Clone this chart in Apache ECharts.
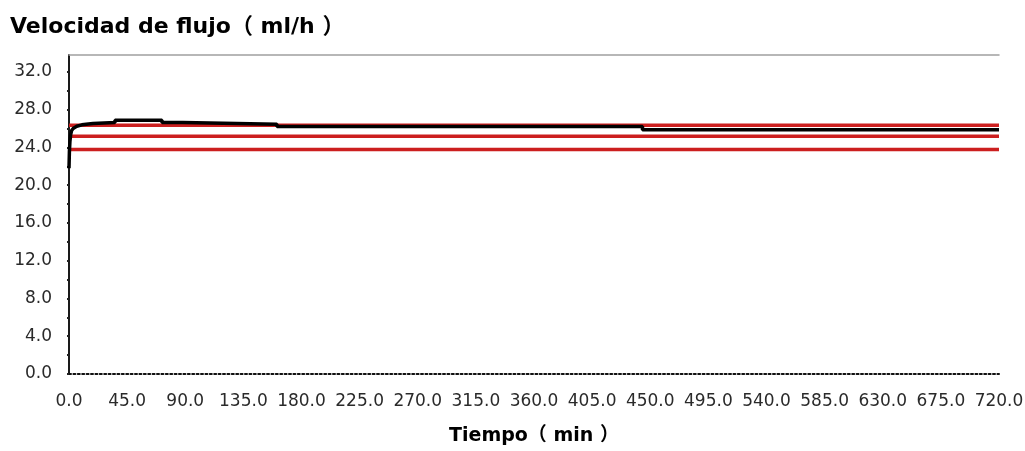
<!DOCTYPE html>
<html>
<head>
<meta charset="utf-8">
<script src="https://cdn.jsdelivr.net/npm/echarts@6/dist/echarts.min.js"></script>
<style>
  html, body { margin: 0; padding: 0; background: #ffffff; }
  #chart { width: 1025px; height: 451px; }
</style>
</head>
<body>
<div id="chart"></div>
<script>
// Infusion flow rate over time (minutes), with the three reference levels.
const timeMin = [0, 0.3, 0.7, 1.2, 2, 3.5, 6, 10, 15, 18.6, 18.6, 35.6, 35.6, 72, 72, 88, 88, 161, 161, 444, 444, 720];
const flowRate = [21.8, 23.5, 24.6, 25.3, 25.8, 26.05, 26.25, 26.4, 26.5, 26.55, 26.65, 26.65, 26.88, 26.88, 26.65, 26.65, 26.45, 26.45, 26.22, 26.22, 25.88, 25.88];

// Upper limit, set rate, lower limit
const refLevels = [26.35, 25.2, 23.8];
const timeRange = [0, 720];

const xTickStep = 45;
const yTickStep = 2;
const yLabelStep = 4;
const yMax = 33.8;

const titleText = 'Velocidad de flujo（ ml/h ）';
const xName = 'Tiempo（ min ）';

const boldFont = '"DejaVu Sans", "Noto Sans CJK SC", sans-serif';
const labelFont = '"DejaVu Sans", sans-serif';

const chart = echarts.init(document.getElementById('chart'), null, { renderer: 'canvas' });

const flowData = timeMin.map((t, i) => [t, flowRate[i]]);

const refSeries = refLevels.map((lv) => ({
  type: 'line',
  data: timeRange.map((t) => [t, lv]),
  symbol: 'none',
  silent: true,
  lineStyle: { color: '#cc1f1f', width: 3.5 },
  z: 2
}));

chart.setOption({
  animation: false,
  backgroundColor: '#ffffff',
  title: {
    text: titleText,
    left: 10,
    top: 16,
    padding: 0,
    textStyle: { fontFamily: boldFont, fontWeight: 'bold', fontSize: 22, color: '#000000' }
  },
  grid: { left: 69, right: 26, top: 55, bottom: 77, containLabel: false, outerBoundsMode: 'none' },
  xAxis: [
    {
      type: 'value',
      min: timeRange[0],
      max: timeRange[1],
      interval: xTickStep,
      name: xName,
      nameLocation: 'middle',
      nameGap: 53,
      nameTextStyle: { fontFamily: boldFont, fontWeight: 'bold', fontSize: 19, color: '#000000' },
      axisLine: { show: true, onZero: false, lineStyle: { color: '#111111', width: 2, type: [2, 2.4] } },
      axisTick: { show: false },
      splitLine: { show: false },
      axisLabel: {
        margin: 19,
        fontFamily: labelFont,
        fontSize: 17,
        color: '#2a2a2a',
        formatter: (v) => v.toFixed(1)
      }
    },
    {
      type: 'value',
      position: 'top',
      min: timeRange[0],
      max: timeRange[1],
      axisLine: { show: true, onZero: false, lineStyle: { color: '#a0a0a0', width: 1.5 } },
      axisTick: { show: false },
      axisLabel: { show: false },
      splitLine: { show: false }
    }
  ],
  yAxis: {
    type: 'value',
    min: 0,
    max: yMax,
    interval: yTickStep,
    axisLine: { show: true, onZero: false, lineStyle: { color: '#1a1a1a', width: 2 } },
    axisTick: { show: true, length: 2, lineStyle: { color: '#222222', width: 2 } },
    splitLine: { show: false },
    axisLabel: {
      margin: 17,
      fontFamily: labelFont,
      fontSize: 17,
      color: '#2a2a2a',
      showMaxLabel: false,
      formatter: (v) => (Math.abs(v % yLabelStep) < 1e-9 ? v.toFixed(1) : '')
    }
  },
  series: [
    ...refSeries,
    {
      type: 'line',
      data: flowData,
      symbol: 'none',
      silent: true,
      lineStyle: { color: '#000000', width: 3.5 },
      z: 3
    }
  ]
});
</script>
</body>
</html>
